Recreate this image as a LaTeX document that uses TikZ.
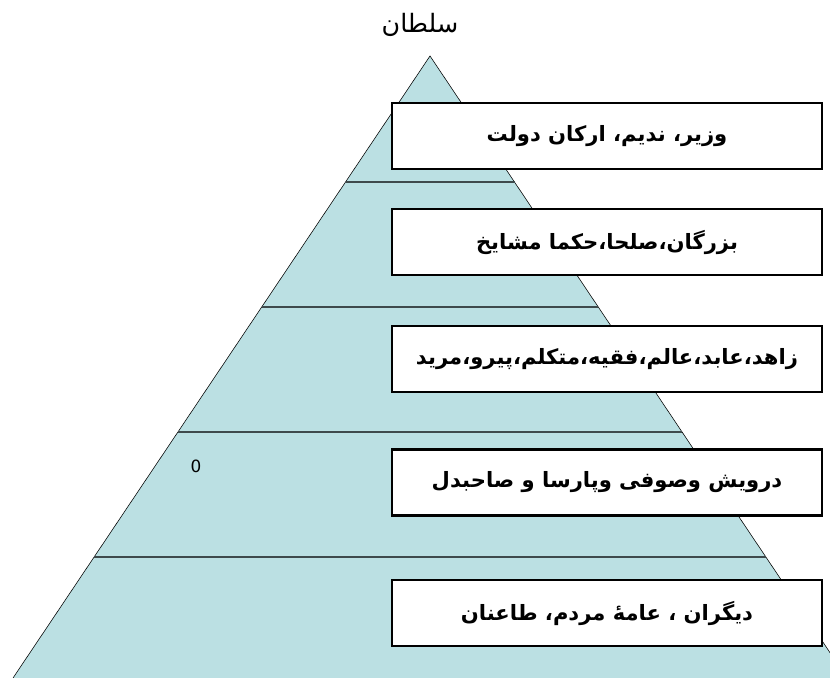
\documentclass[tikz,border=0pt]{standalone}
\usepackage{fontspec}
\setmainfont{DejaVu Sans}
\newfontfamily\arabicfont[Script=Arabic]{DejaVu Sans}
\TeXXeTstate=1
\usetikzlibrary{shadows}
\definecolor{pyramidblue}{RGB}{187,224,227}
\definecolor{bandline}{RGB}{62,74,76}

\begin{document}
\begin{tikzpicture}[x = 0.025cm, y = -0.025cm,
  rank/.style = {draw = black, line width = 1.5pt, fill = white,
    minimum width = 10.75cm, minimum height = 1.65cm, inner sep = 0pt,
    drop shadow = {shadow xshift = 0.6pt, shadow yshift = -0.6pt, fill = gray!70, opacity = 1},
    font = \arabicfont\bfseries\fontsize{15}{18}\selectfont}]
\useasboundingbox (0, 0) rectangle (830, 678);
%\draw [help lines, step = 50] (0, 0) grid (830, 678);
\begin{scope}
\clip (0, 0) rectangle (830, 678);
\coordinate (apex) at (430, 56);
\fill [pyramidblue] (apex) -- (13, 678) -- (847, 678) -- cycle;
\draw [thin] (13, 678) -- (apex) -- (847, 678);
\end{scope}
% bands
\draw [bandline, line width = 1.5pt] (345.5, 182) -- (514.5, 182);
\draw [bandline, line width = 1.5pt] (261.7, 307) -- (598.3, 307);
\draw [bandline, line width = 1.5pt] (177.9, 432) -- (682.1, 432);
\draw [bandline, line width = 1.5pt] (94.1, 557) -- (765.9, 557);
\node [font = \arabicfont\fontsize{18}{21}\selectfont] (sultan) at (420, 25) {\beginR سلطان\endR};
\node [font = \fontsize{12}{14}\selectfont] (zero) at (196, 466) {0};
\node [rank] (vizier) at (607, 136) {\beginR وزیر،  ندیم، ارکان دولت\endR};
\node [rank] (elders) at (607, 242) {\beginR بزرگان،صلحا،حکما مشایخ\endR};
\node [rank] (scholars) at (607, 359) {\beginR زاهد،عابد،عالم،فقیه،متکلم،پیرو،مرید\endR};
\node [rank] (dervish) at (607, 482.5) {\beginR درویش وصوفی وپارسا و صاحبدل\endR};
\node [rank] (people) at (607, 613) {\beginR دیگران ، عامهٔ مردم، طاعنان\endR};
\end{tikzpicture}
\end{document}
